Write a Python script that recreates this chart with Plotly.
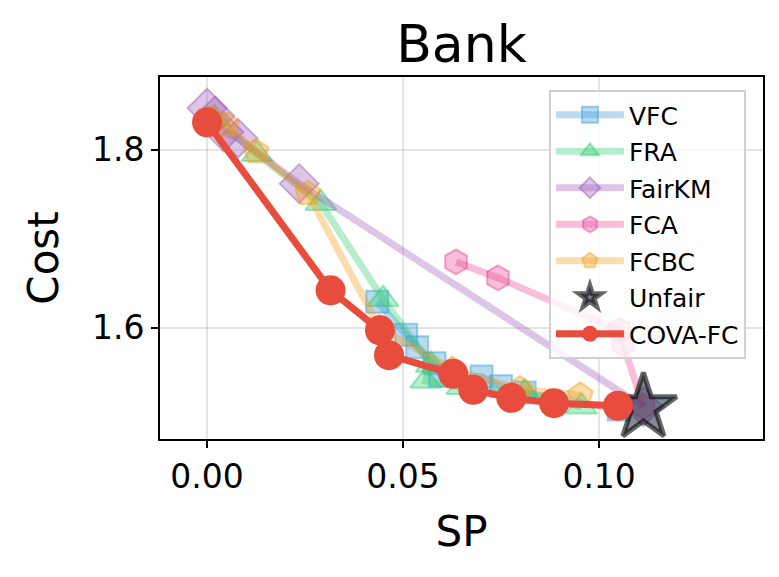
import plotly.graph_objects as go

# values (SP vs Cost, Bank dataset)
vfc_sp = [0.0434, 0.0508, 0.0536, 0.0580, 0.0595, 0.0700, 0.0750, 0.0810, 0.1050]
vfc_cost = [1.629, 1.592, 1.578, 1.560, 1.546, 1.545, 1.534, 1.527, 1.508]

fra_sp = [0.0020, 0.0128, 0.0290, 0.0449, 0.0572, 0.0558, 0.0650, 0.0810, 0.0955]
fra_cost = [1.835, 1.795, 1.740, 1.632, 1.558, 1.540, 1.533, 1.527, 1.511]

fairkm_sp = [0.0000, 0.0020, 0.0043, 0.0079, 0.0235, 0.1113]
fairkm_cost = [1.847, 1.838, 1.820, 1.813, 1.762, 1.511]

fca_sp = [0.0635, 0.0742, 0.1052, 0.1061, 0.1113]
fca_cost = [1.674, 1.656, 1.597, 1.582, 1.511]

fcbc_sp = [0.0010, 0.0050, 0.0125, 0.0257, 0.0440, 0.0625, 0.0798, 0.0952]
fcbc_cost = [1.835, 1.828, 1.798, 1.751, 1.600, 1.553, 1.531, 1.524]

unfair_sp = [0.1113]
unfair_cost = [1.510]

cova_sp = [0.0000, 0.0315, 0.0441, 0.0464, 0.0628, 0.0679, 0.0776, 0.0885, 0.1048]
cova_cost = [1.831, 1.642, 1.597, 1.569, 1.548, 1.530, 1.521, 1.515, 1.512]


def rgba(hex_color, a):
    h = hex_color.lstrip('#')
    r, g, b = int(h[0:2], 16), int(h[2:4], 16), int(h[4:6], 16)
    return f'rgba({r},{g},{b},{a})'


baselines = [
    ('VFC', vfc_sp, vfc_cost, '#3498db', 'square', 22),
    ('FRA', fra_sp, fra_cost, '#2ecc71', 'triangle-up', 27),
    ('FairKM', fairkm_sp, fairkm_cost, '#9b59b6', 'diamond', 30),
    ('FCA', fca_sp, fca_cost, '#e84393', 'hexagon', 25),
    ('FCBC', fcbc_sp, fcbc_cost, '#f39c12', 'pentagon', 26),
]

fig = go.Figure()
for i, (name, xs, ys, col, sym, size) in enumerate(baselines):
    fig.add_trace(go.Scatter(
        x=xs, y=ys, name=name, mode='lines+markers', legendgroup=str(i),
        line=dict(color=rgba(col, 0.35), width=7),
        marker=dict(symbol=sym, size=size, color=rgba(col, 0.35),
                    line=dict(color=rgba(col, 0.45), width=2)),
    ))

fig.add_trace(go.Scatter(
    x=unfair_sp, y=unfair_cost, name='Unfair', mode='markers', legendgroup='5',
    marker=dict(symbol='star', size=50, color='rgba(44,62,80,0.6)',
                line=dict(color='rgba(0,0,0,0.6)', width=5)),
))
fig.add_trace(go.Scatter(
    x=cova_sp, y=cova_cost, name='COVA-FC', mode='lines+markers', legendgroup='6',
    line=dict(color='#e74c3c', width=7),
    marker=dict(symbol='circle', size=30, color='#e74c3c'),
))

axis_common = dict(
    showline=True, linecolor='black', linewidth=2, mirror=True,
    ticks='outside', ticklen=7, tickwidth=2, tickcolor='black',
    showgrid=True, gridcolor='rgba(0,0,0,0.1)', gridwidth=2,
    zeroline=False, tickfont=dict(size=33, color='black'),
)

# page body adds an 8px offset, so the figure is drawn 8px smaller
fig.update_layout(
    width=771, height=569,
    margin=dict(l=152, r=16, t=69, b=138),
    plot_bgcolor='white', paper_bgcolor='white',
    font=dict(family='DejaVu Sans', color='black'),
    title=dict(text='Bank', x=0.5, xref='paper', xanchor='center',
               y=0.937, yanchor='middle', font=dict(size=52)),
    xaxis=dict(range=[-0.012, 0.1418], tickvals=[0, 0.05, 0.10],
               tickformat='.2f',
               title=dict(text='SP', font=dict(size=42), standoff=22),
               **axis_common),
    yaxis=dict(range=[1.4747, 1.882], tickvals=[1.6, 1.8], tickformat='.1f',
               title=dict(text='Cost', font=dict(size=42), standoff=20),
               **axis_common),
    legend=dict(x=0.645, y=0.964, xanchor='left', yanchor='top',
                bgcolor='rgba(255,255,255,0.8)', bordercolor='#d0d0d0',
                borderwidth=2, font=dict(size=25), tracegroupgap=1,
                itemsizing='trace', itemwidth=68),
    showlegend=True,
)

fig.write_html('out.html')
